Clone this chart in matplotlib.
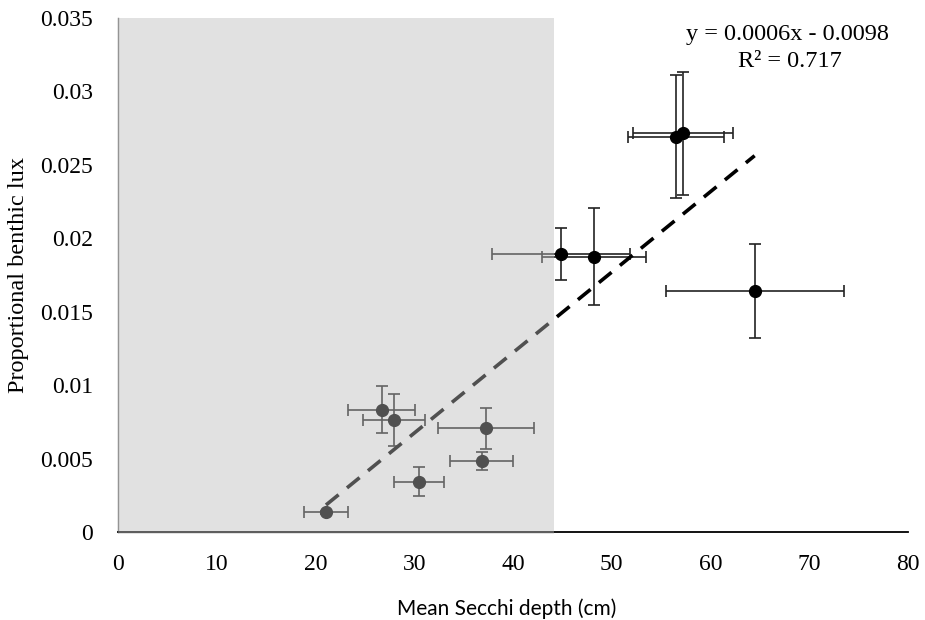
import numpy as np
import matplotlib
matplotlib.use("Agg")
import matplotlib.pyplot as plt

# mean Secchi depth (cm) and proportional benthic lux per lake
secchi = [21.06, 26.7, 27.95, 37.27, 36.83, 30.48, 44.86, 48.2, 56.5, 57.25, 64.47]
lux = [0.00136, 0.00831, 0.00763, 0.00706, 0.00483, 0.00343,
       0.01891, 0.01875, 0.02692, 0.02715, 0.01639]
secchi_err = [2.2, 3.4, 3.1, 4.9, 3.2, 2.5, 7.0, 5.3, 4.9, 5.05, 9.0]
lux_err = [0.0001, 0.0016, 0.0018, 0.0014, 0.0006, 0.0010,
           0.00176, 0.0033, 0.0042, 0.0042, 0.0032]
shade_limit = 44.2
eq_text = "y = 0.0006x - 0.0098"
r2_text = "R\u00b2 = 0.717"

serif = "Liberation Serif"

fig = plt.figure(figsize=(9.25, 6.2), dpi=100)
ax = fig.add_axes([0.1276, 0.1419, 0.854, 0.829])

ax.errorbar(secchi, lux, xerr=secchi_err, yerr=lux_err, fmt="o", color="black",
            ms=8.5, ecolor="#222222", elinewidth=1.2, capsize=4.5, capthick=1.2,
            zorder=3)

# linear trend over the observed range
slope, icpt = np.polyfit(secchi, lux, 1)
xs = np.array([min(secchi), max(secchi)])
ax.plot(xs, slope * xs + icpt, color="black", lw=2.6, ls=(0, (4.5, 3)), zorder=4)

# translucent grey band over the shallow lakes
band = ax.axvspan(0, shade_limit, ymin=-0.004, ymax=1, color="#bbbbbb",
                  alpha=0.43, lw=0, zorder=10)
band.set_clip_on(False)

ax.text(0.848, 0.957, eq_text, transform=ax.transAxes, ha="center",
        va="baseline", fontsize=17.5, family=serif)
ax.text(0.850, 0.905, r2_text, transform=ax.transAxes, ha="center",
        va="baseline", fontsize=17.5, family=serif)

ax.set_xlim(0, 80)
ax.set_ylim(0, 0.035)
ax.set_xticks(np.arange(0, 81, 10))
ax.set_yticks(np.arange(0, 0.0351, 0.005))
ax.set_yticklabels(["0", "0.005", "0.01", "0.015", "0.02", "0.025", "0.03", "0.035"])

for lbl in ax.get_xticklabels() + ax.get_yticklabels():
    lbl.set_family(serif)
    lbl.set_fontsize(17)
ax.tick_params(axis="x", length=0, pad=16)
ax.tick_params(axis="y", length=0, pad=18)

ax.spines["top"].set_visible(False)
ax.spines["right"].set_visible(False)
ax.spines["bottom"].set_linewidth(1.3)
ax.spines["left"].set_linewidth(1.0)
ax.spines["left"].set_color("#777777")

ax.set_ylabel("Proportional benthic lux", family=serif, fontsize=17.5, labelpad=8)
ax.set_xlabel("Mean Secchi depth (cm)", family="Lato", fontsize=15, labelpad=15)
ax.xaxis.set_label_coords(0.492, -0.13)

fig.savefig("out.png", dpi=100)
